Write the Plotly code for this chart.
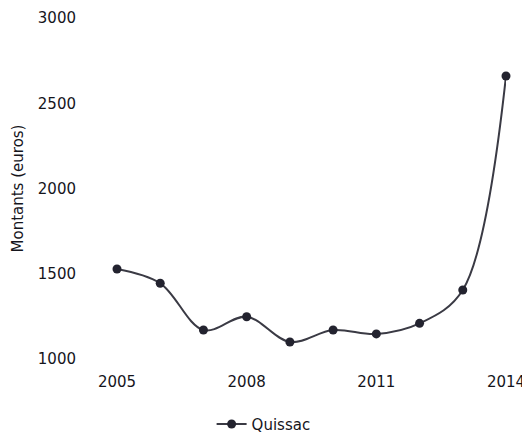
import plotly.graph_objects as go

years = [2005, 2006, 2007, 2008, 2009, 2010, 2011, 2012, 2013, 2014]
montants = [1528, 1444, 1170, 1248, 1100, 1170, 1147, 1209, 1405, 2660]
series_name = "Quissac"
y_ticks = [1000, 1500, 2000, 2500, 3000]
x_ticks = [2005, 2008, 2011, 2014]

FONT = "DejaVu Sans"
INK = "#15151c"

fig = go.Figure()
fig.add_trace(go.Scatter(
    x=years, y=montants, name=series_name,
    mode="lines+markers", cliponaxis=False,
    line=dict(color="#3a3a44", width=2, shape="spline", smoothing=1.0),
    marker=dict(color="#23232f", size=9),
))

fig.update_layout(
    width=522, height=436,
    margin=dict(l=117, r=16, t=18, b=77, autoexpand=False),
    paper_bgcolor="white", plot_bgcolor="white",
    font=dict(family=FONT, size=15, color=INK),
    showlegend=True,
    legend=dict(orientation="h", x=0.505, xref="container", xanchor="center",
                y=0.027, yref="container", yanchor="middle",
                font=dict(family=FONT, size=15, color=INK)),
    xaxis=dict(range=[2005, 2014], tickvals=x_ticks, ticktext=[str(v) for v in x_ticks],
               showgrid=False, zeroline=False, showline=False, ticks="",
               automargin=False, ticklabeloverflow="allow",
               ticklabelstandoff=12, tickfont=dict(size=15)),
    yaxis=dict(range=[1000, 3000], tickvals=y_ticks, ticktext=[str(v) for v in y_ticks],
               showgrid=False, zeroline=False, showline=False, ticks="",
               automargin=False,
               ticklabelstandoff=40, tickfont=dict(size=15),
               title=dict(text="Montants (euros)", font=dict(size=15), standoff=10)),
)

fig.write_html("out.html")
